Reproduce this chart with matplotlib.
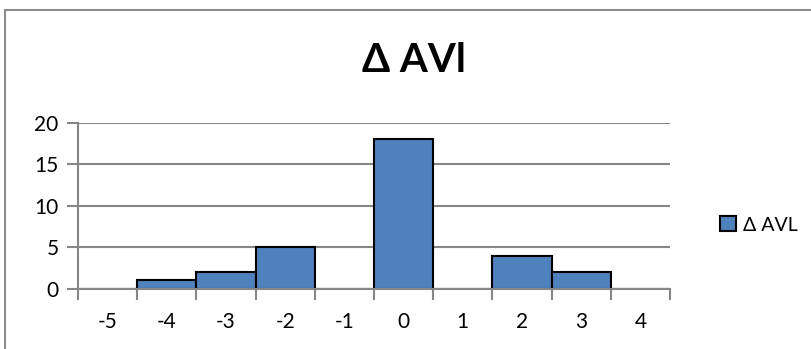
import numpy as np
import matplotlib.pyplot as plt
from matplotlib.patches import Rectangle

plt.rcParams['font.family'] = ['Lato', 'DejaVu Sans']

categories = ['-5', '-4', '-3', '-2', '-1', '0', '1', '2', '3', '4']
counts = [0, 1, 2, 5, 0, 18, 0, 4, 2, 0]
series_name = 'Δ AVL'
title = 'Δ AVl'

fig = plt.figure(figsize=(8.12, 3.49), dpi=100)
ax = fig.add_axes([78 / 812, 1 - 288.7 / 349, (670 - 78) / 812, (288.7 - 122.7) / 349])

x = np.arange(len(categories))
ax.bar(x, counts, width=1.0, color='#4F81BD', edgecolor='black', linewidth=1.5,
       label=series_name, zorder=3)

ax.set_xlim(-0.5, len(categories) - 0.5)
ax.set_ylim(0, 20)
ax.set_yticks([0, 5, 10, 15, 20])
ax.set_xticks(x)
ax.set_xticklabels(categories)
# tick marks sit on category boundaries, labels in the middle
ax.set_xticks(np.arange(len(categories) + 1) - 0.5, minor=True)
ax.tick_params(axis='x', which='major', length=0, pad=17, labelsize=15)
ax.tick_params(axis='x', which='minor', length=8, width=1.5, color='#868686')
ax.tick_params(axis='y', length=8, width=1.5, color='#868686', pad=6, labelsize=15)

ax.grid(axis='y', color='#868686', linewidth=1.5, zorder=0)
for side in ['top', 'right']:
    ax.spines[side].set_visible(False)
for side in ['left', 'bottom']:
    ax.spines[side].set_color('#868686')
    ax.spines[side].set_linewidth(1.5)
    ax.spines[side].set_zorder(4)

fig.text(414 / 812, 1 - 61 / 349, title, ha='center', va='center',
         fontsize=29, fontweight='bold')

handles, labels = ax.get_legend_handles_labels()
fig.legend(handles, labels, loc='center left', bbox_to_anchor=(703 / 812, 1 - 225 / 349),
           frameon=False, fontsize=14, handlelength=0.8, handleheight=0.8,
           handletextpad=0.35)

# chart frame, running off the right and bottom edges
fig.add_artist(Rectangle((5 / 812, -0.1), 1.2, 1 - 10.5 / 349 + 0.1,
                         transform=fig.transFigure, fill=False,
                         edgecolor='#8C8C8C', linewidth=1.5))

fig.savefig('out.png', dpi=100)
